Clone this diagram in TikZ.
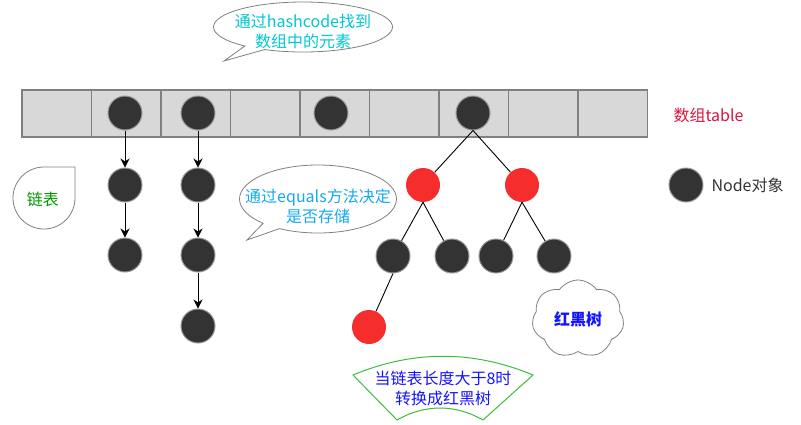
\documentclass[tikz,border=0pt]{standalone}
\usepackage{fontspec}
\setmainfont{Noto Sans CJK SC}
\usetikzlibrary{arrows.meta}
\usetikzlibrary{shapes.callouts, shapes.symbols}
\definecolor{cellgray}{RGB}{216,216,216}
\definecolor{bordergray}{RGB}{128,128,128}
\definecolor{nodeblack}{RGB}{51,51,51}
\definecolor{nodered}{RGB}{245,45,45}
\definecolor{hashcyan}{RGB}{0,200,210}
\definecolor{equalsblue}{RGB}{20,170,240}
\definecolor{listgreen}{RGB}{0,153,0}
\definecolor{tablered}{RGB}{220,20,60}
\definecolor{rbblue}{RGB}{20,20,255}
\definecolor{sectorgreen}{RGB}{60,190,60}
\tikzset{
every node/.style={font=\fontsize{16}{20}\selectfont},
cell/.style={ % one slot of the array
draw=bordergray,
line width=1.2pt,
fill=cellgray,
minimum width=69.5pt,
minimum height=47pt,
inner sep=0pt},
entry/.style={ % a black Node
circle,
draw=gray!80,
line width=1pt,
fill=nodeblack,
minimum size=34pt,
inner sep=0pt},
rednode/.style={circle, fill=nodered, minimum size=34pt, inner sep=0pt},
link/.style={-{Stealth[length=9pt, width=9pt, inset=3pt]}, line width=0.9pt},
branch/.style={line width=0.9pt},
bubble/.style={ellipse callout, draw=bordergray, fill=white, line width=0.8pt, inner sep=0pt}}

\begin{document}
\begin{tikzpicture}[x=1pt, y=-1pt]
	\useasboundingbox (0,0) rectangle (801,424);
	% array table
	\foreach \i in {1,...,9}
		\node[cell] (cell\i) at ({22+69.5*(\i-0.5)},113.5) {};
	\node[entry] (b2) at (125,113) {};
	\node[entry] (b3) at (198,113) {};
	\node[entry] (b5) at (331,113) {};
	\node[entry] (b7) at (473,113) {};
	\node[text=tablered, anchor=west] (tablelabel) at (670,115) {数组table};
	% linked lists
	\node[entry] (l1a) at (125,185) {};
	\node[entry] (l1b) at (125,255) {};
	\node[entry] (l2a) at (198,185) {};
	\node[entry] (l2b) at (198,255) {};
	\node[entry] (l2c) at (198,326) {};
	\draw (b2) edge[link] (l1a);
	\draw (l1a) edge[link] (l1b);
	\draw (b3) edge[link] (l2a);
	\draw (l2a) edge[link] (l2b);
	\draw (l2b) edge[link] (l2c);
	% red-black tree
	\node[rednode] (r1) at (423,185) {};
	\node[rednode] (r2) at (522,185) {};
	\node[entry] (t1) at (393,256) {};
	\node[entry] (t2) at (452,256) {};
	\node[entry] (t3) at (496,256) {};
	\node[entry] (t4) at (554,256) {};
	\node[rednode] (r3) at (369,327) {};
	\draw[branch] (b7.south) -- (r1);
	\draw[branch] (b7.south) -- (r2);
	\draw[branch] (r1.south) -- (t1);
	\draw[branch] (r1.south) -- (t2);
	\draw[branch] (r2.south) -- (t3);
	\draw[branch] (r2.south) -- (t4);
	\draw[branch] (t1.south) -- (r3);
	% legend
	\node[entry] (legend) at (686,185) {};
	\node[anchor=west, text=nodeblack] (legendtext) at (708,185) {Node对象};
	% notes
	\node[bubble, minimum width=179pt, minimum height=50pt,
		callout absolute pointer={(224,61)},
		label={[align=center, text=hashcyan, yshift=-4pt]center:{通过hashcode找到\\数组中的元素}}] (hashnote) at (303,27) {};
	\node[bubble, minimum width=157pt, minimum height=68pt,
		callout absolute pointer={(247,240)},
		label={[align=center, text=equalsblue, yshift=-7pt]center:{通过equals方法决定\\是否存储}}] (equalsnote) at (318,199) {};
	\draw[bordergray, line width=0.8pt] (75,167) -- (75,198) arc[start angle=0, end angle=270, radius=31] -- cycle;
	\node[text=listgreen] (listnote) at (43,199) {链表};
	\node[cloud, cloud puffs=7, cloud puff arc=110, aspect=1.3, draw=bordergray, line width=0.8pt, minimum width=92pt, minimum height=78pt,
		label={[text=rbblue, font=\fontsize{16}{20}\selectfont\bfseries]center:红黑树}] (rbnote) at (578,319) {};
	\draw[sectorgreen, line width=1pt] (353,375) .. controls (413,350) and (473,350) .. (533,375)
		-- (483,420) .. controls (455,404) and (425,404) .. (397,420) -- cycle;
	\node[align=center, text=rbblue] (treenote) at (443,388) {当链表长度大于8时\\转换成红黑树};
\end{tikzpicture}
\end{document}
